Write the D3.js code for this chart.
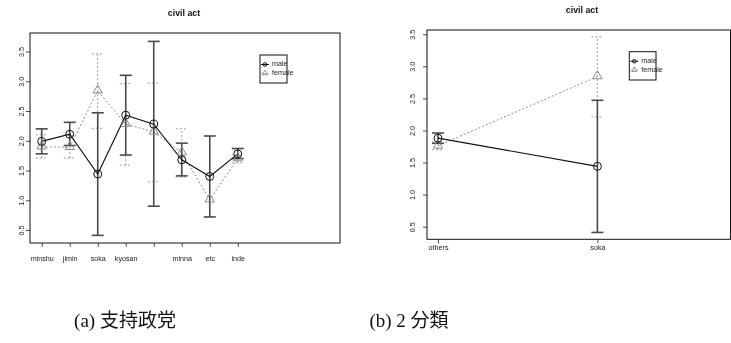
<!DOCTYPE html>
<html>
<head>
<meta charset="utf-8">
<script src="https://cdn.jsdelivr.net/npm/d3@7"></script>
<style>
  html, body { margin: 0; padding: 0; background: #fff; }
  svg { display: block; filter: grayscale(1); }
  .tick-label { font-family: "Liberation Sans", Arial, sans-serif; font-size: 7.2px; fill: #222; }
  .title { font-family: "Liberation Sans", Arial, sans-serif; font-size: 8.8px; font-weight: bold; fill: #111; }
</style>
</head>
<body>
<svg id="chart" width="731" height="343"></svg>
<script>
// Panel (a): support party
const partyCats = ["minshu", "jimin", "soka", "kyosan", "", "minna", "etc", "inde"];
const partyMale = [1.99, 2.11, 1.44, 2.43, 2.28, 1.68, 1.40, 1.78];
const partyMaleLo = [1.78, 1.92, 0.41, 1.76, 0.90, 1.41, 0.72, 1.70];
const partyMaleHi = [2.20, 2.31, 2.47, 3.10, 3.67, 1.96, 2.08, 1.87];
const partyFemale = [1.90, 1.89, 2.84, 2.28, 2.15, 1.80, 1.01, 1.70];
const partyFemaleLo = [1.71, 1.71, 2.21, 1.59, 1.31, 1.39, null, 1.63];
const partyFemaleHi = [2.10, 2.09, 3.46, 2.96, 2.97, 2.20, null, 1.76];

// Panel (b): two groups
const groupCats = ["others", "soka"];
const groupMale = [1.88, 1.44];
const groupMaleLo = [1.80, 0.41];
const groupMaleHi = [1.96, 2.47];
const groupFemale = [1.76, 2.84];
const groupFemaleLo = [1.70, 2.21];
const groupFemaleHi = [1.82, 3.46];

const yTicks = [0.5, 1.0, 1.5, 2.0, 2.5, 3.0, 3.5];
const legendLabels = ["male", "female"];
const titleText = "civil act";
const captions = ["(a) 支持政党", "(b) 2 分類"];

const svg = d3.select("#chart");

function drawPanel(cfg) {
  const g = svg.append("g");
  const x = d3.scaleLinear().domain(cfg.xDomain).range([cfg.left, cfg.right]);
  const y = d3.scaleLinear().domain(cfg.yDomain).range([cfg.bottom, cfg.top]);
  const idx = cfg.cats.map((_, i) => i + 1);

  // title
  g.append("text").attr("class", "title")
    .attr("x", cfg.titleX).attr("y", cfg.titleY)
    .attr("text-anchor", "middle").text(titleText);

  // y axis, labels rotated parallel to the axis
  const yAxis = d3.axisLeft(y).tickValues(yTicks).tickSize(4).tickFormat(d3.format(".1f"));
  const ya = g.append("g").attr("transform", `translate(${cfg.left},0)`).call(yAxis);
  ya.select(".domain").remove();
  ya.selectAll("line").attr("stroke", "#222").attr("stroke-width", 0.8);
  ya.selectAll(".tick text").attr("class", "tick-label")
    .attr("fill", null).attr("x", 0).attr("y", 0).attr("dy", null)
    .attr("text-anchor", "middle").attr("dominant-baseline", "middle")
    .attr("transform", `translate(${cfg.yLabelX - cfg.left},0) rotate(-90)`);

  // x axis
  const xAxis = d3.axisBottom(x).tickValues(idx).tickSize(4).tickFormat(i => cfg.cats[i - 1]);
  const xa = g.append("g").attr("transform", `translate(0,${cfg.bottom})`).call(xAxis);
  xa.select(".domain").remove();
  xa.selectAll("line").attr("stroke", "#222").attr("stroke-width", 0.8);
  xa.selectAll("text").attr("class", "tick-label").attr("fill", null)
    .attr("y", cfg.xLabelY - cfg.bottom).attr("dy", "0.35em");
  g.selectAll("g").attr("font-size", null).attr("font-family", null);

  // plot box
  g.append("rect")
    .attr("x", cfg.left).attr("y", cfg.top)
    .attr("width", cfg.right - cfg.left).attr("height", cfg.bottom - cfg.top)
    .attr("fill", "none").attr("stroke", "#111").attr("stroke-width", 1);

  const capW = 6;
  function errorBars(vals, lo, hi, color, width, dash) {
    const eg = g.append("g");
    vals.forEach((v, i) => {
      if (lo[i] == null || hi[i] == null) return;
      const cx = x(i + 1);
      eg.append("line").attr("x1", cx).attr("x2", cx)
        .attr("y1", y(lo[i])).attr("y2", y(hi[i]))
        .attr("stroke", color).attr("stroke-width", width)
        .attr("stroke-dasharray", dash);
      [lo[i], hi[i]].forEach(e => {
        eg.append("line").attr("x1", cx - capW).attr("x2", cx + capW)
          .attr("y1", y(e)).attr("y2", y(e))
          .attr("stroke", color).attr("stroke-width", width)
          .attr("stroke-dasharray", dash);
      });
    });
  }

  const line = d3.line().x((d, i) => x(i + 1)).y(d => y(d));

  // female: gray dashed with triangles
  errorBars(cfg.female, cfg.femaleLo, cfg.femaleHi, "#9a9a9a", 1, "2,2");
  g.append("path").datum(cfg.female).attr("d", line)
    .attr("fill", "none").attr("stroke", "#8a8a8a").attr("stroke-width", 1)
    .attr("stroke-dasharray", "2,2");

  // male: black solid with circles
  errorBars(cfg.male, cfg.maleLo, cfg.maleHi, "#4a4a4a", 1.6, null);
  g.append("path").datum(cfg.male).attr("d", line)
    .attr("fill", "none").attr("stroke", "#111").attr("stroke-width", 1.1);

  const tri = d3.symbol().type(d3.symbolTriangle).size(38);
  g.selectAll(".tri").data(cfg.female).enter().append("path")
    .attr("transform", (d, i) => `translate(${x(i + 1)},${y(d) - 0.5})`)
    .attr("d", tri).attr("fill", "none").attr("stroke", "#8a8a8a").attr("stroke-width", 1);

  g.selectAll(".circ").data(cfg.male).enter().append("circle")
    .attr("cx", (d, i) => x(i + 1)).attr("cy", d => y(d)).attr("r", 4)
    .attr("fill", "none").attr("stroke", "#111").attr("stroke-width", 1);

  // legend
  const L = cfg.legend;
  g.append("rect").attr("x", L.x).attr("y", L.y).attr("width", L.w).attr("height", L.h)
    .attr("fill", "none").attr("stroke", "#111").attr("stroke-width", 1);
  legendLabels.forEach((lab, k) => {
    const ly = L.y + L.row0 + k * L.rowH;
    g.append("text").attr("class", "tick-label").attr("x", L.x + 12).attr("y", ly)
      .attr("dominant-baseline", "middle").text(lab);
    if (k === 0) {
      g.append("line").attr("x1", L.x + 1).attr("x2", L.x + 9).attr("y1", ly).attr("y2", ly)
        .attr("stroke", "#111").attr("stroke-width", 1);
      g.append("circle").attr("cx", L.x + 5).attr("cy", ly).attr("r", 1.8)
        .attr("fill", "none").attr("stroke", "#111").attr("stroke-width", 1);
    } else {
      g.append("line").attr("x1", L.x + 1).attr("x2", L.x + 9).attr("y1", ly).attr("y2", ly)
        .attr("stroke", "#999").attr("stroke-width", 0.8).attr("stroke-dasharray", "1.5,1.5");
      g.append("path").attr("transform", `translate(${L.x + 5},${ly - 0.3})`)
        .attr("d", d3.symbol().type(d3.symbolTriangle).size(12))
        .attr("fill", "none").attr("stroke", "#777").attr("stroke-width", 0.8);
    }
  });

  // caption under the panel
  svg.append("text")
    .style("font-family", "'Liberation Serif', 'DejaVu Serif', 'Noto Sans CJK JP', serif")
    .style("font-size", "19px").style("fill", "#111")
    .attr("x", cfg.captionX).attr("y", 327).attr("text-anchor", "middle").text(cfg.caption);
}

drawPanel({
  cats: partyCats,
  male: partyMale, maleLo: partyMaleLo, maleHi: partyMaleHi,
  female: partyFemale, femaleLo: partyFemaleLo, femaleHi: partyFemaleHi,
  left: 30, right: 340, top: 33, bottom: 243,
  xDomain: [0.582, 11.65], yDomain: [0.282, 3.811],
  yLabelX: 22, xLabelY: 258,
  titleX: 184, titleY: 16,
  legend: { x: 260, y: 55, w: 27, h: 28, row0: 9.5, rowH: 9 },
  captionX: 125, caption: captions[0]
});

drawPanel({
  cats: groupCats,
  male: groupMale, maleLo: groupMaleLo, maleHi: groupMaleHi,
  female: groupFemale, femaleLo: groupFemaleLo, femaleHi: groupFemaleHi,
  left: 427, right: 730.5, top: 30, bottom: 239.3,
  xDomain: [0.931, 2.835], yDomain: [0.303, 3.566],
  yLabelX: 412.7, xLabelY: 247,
  titleX: 582, titleY: 13,
  legend: { x: 629.3, y: 51.7, w: 26.7, h: 28.3, row0: 9.5, rowH: 9 },
  captionX: 409, caption: captions[1]
});
</script>
</body>
</html>
